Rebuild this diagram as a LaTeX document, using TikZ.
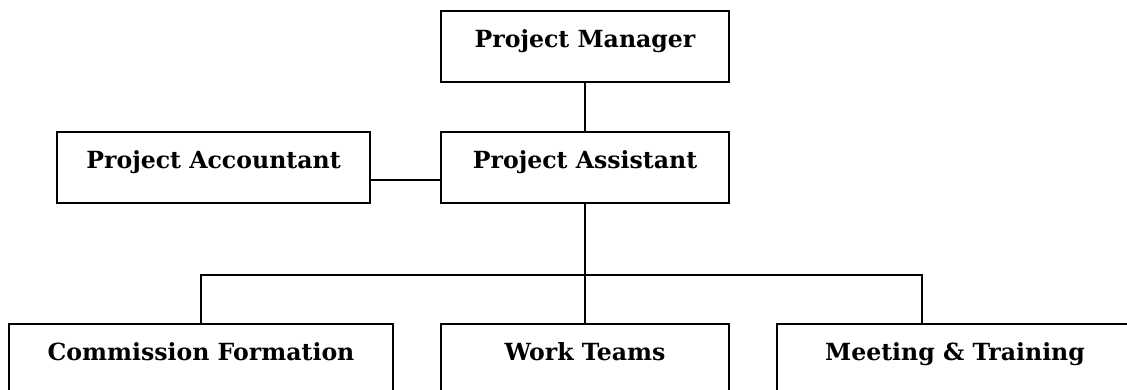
\documentclass[tikz,border=0pt]{standalone}
\usepackage{fontspec}
\setmainfont{DejaVu Serif}
\usetikzlibrary{calc}
\tikzset{
  orgbox/.style={draw, line width=1.6pt, rectangle, inner sep=0pt, anchor=north,
    minimum width=#1, text height=37pt, text depth=34pt,
    font=\fontsize{23.6}{26}\selectfont\bfseries},
  link/.style={line width=1.6pt}
}
\begin{document}
\begin{tikzpicture}[x=1pt,y=-1pt]
\useasboundingbox (0,0) rectangle (1127,390);
\clip (0,0) rectangle (1127,390);
\node[orgbox=288pt] (pm) at (585,10) {Project Manager};
\node[orgbox=288pt] (pa) at (585,131) {Project Assistant};
\node[orgbox=313pt] (acc) at (213.5,131) {Project Accountant};
\node[orgbox=384pt] (cf) at (201,323) {Commission Formation};
\node[orgbox=288pt] (wt) at (585,323) {Work Teams};
\node[orgbox=356pt] (mt) at (955,323) {Meeting \& Training};
\coordinate (bus) at (585,275);
\coordinate (mtjoin) at (922,323);
\draw[link] (pm.south) -- (pa.north);
\draw[link] ($(acc.north east)!0.676!(acc.south east)$) coordinate (accj) -- (pa.west |- accj);
\draw[link] (pa.south) -- (bus);
\draw[link] (cf.north) |- (bus) -| (mtjoin);
\draw[link] (bus) -- (wt.north);
\end{tikzpicture}
\end{document}
